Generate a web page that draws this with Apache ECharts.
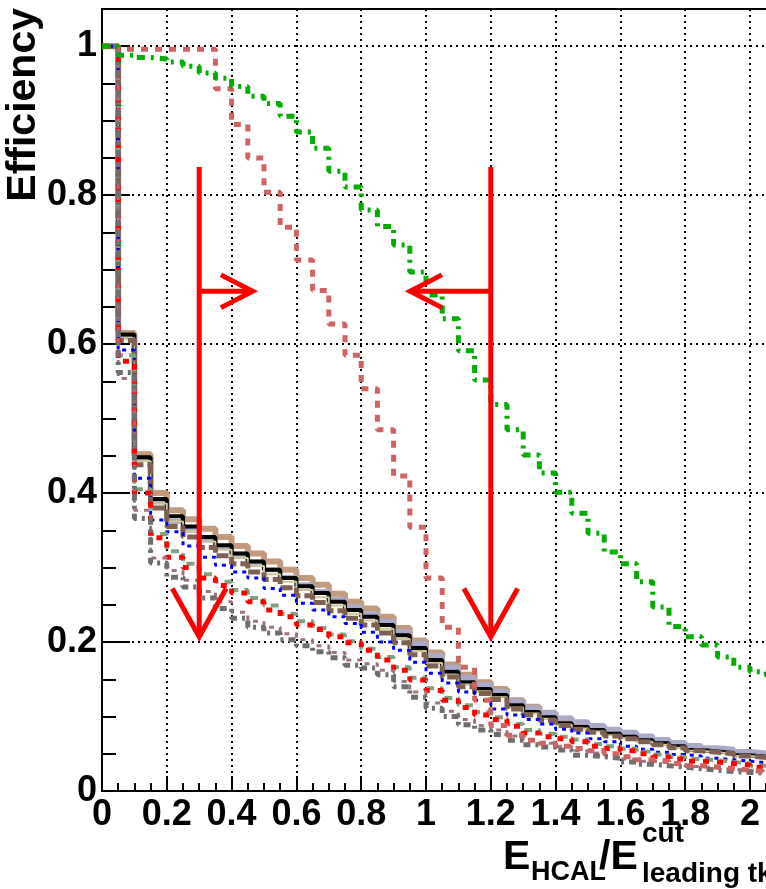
<!DOCTYPE html>
<html>
<head>
<meta charset="utf-8">
<script src="https://cdn.jsdelivr.net/npm/echarts@6/dist/echarts.min.js"></script>
<style>
  html, body { margin: 0; padding: 0; background: #fff; }
  #chart { width: 766px; height: 889px; }
</style>
</head>
<body>
<div id="chart"></div>
<script>
// Cumulative efficiency per bin of E_HCAL / E_leading tk (bin width 0.05, bins from 0 to 2.1)
const binWidth = 0.05;

const effTan      = [1.0, 0.615, 0.452, 0.400, 0.377, 0.365, 0.352, 0.341, 0.329, 0.319, 0.308, 0.297, 0.286, 0.277, 0.265, 0.254, 0.245, 0.234, 0.219, 0.202, 0.186, 0.170, 0.156, 0.146, 0.137, 0.122, 0.113, 0.105, 0.097, 0.091, 0.087, 0.081, 0.077, 0.072, 0.068, 0.063, 0.059, 0.056, 0.054, 0.051, 0.049, 0.047];
const effLavender = [1.0, 0.610, 0.445, 0.388, 0.362, 0.350, 0.337, 0.327, 0.318, 0.307, 0.297, 0.287, 0.277, 0.268, 0.257, 0.247, 0.238, 0.228, 0.214, 0.198, 0.182, 0.166, 0.152, 0.143, 0.134, 0.121, 0.112, 0.105, 0.098, 0.093, 0.088, 0.083, 0.079, 0.074, 0.069, 0.065, 0.061, 0.058, 0.056, 0.053, 0.051, 0.049];
const effBlack    = [1.0, 0.613, 0.448, 0.392, 0.369, 0.355, 0.341, 0.330, 0.319, 0.308, 0.297, 0.286, 0.275, 0.266, 0.254, 0.243, 0.234, 0.223, 0.209, 0.192, 0.176, 0.160, 0.146, 0.137, 0.129, 0.115, 0.106, 0.099, 0.091, 0.086, 0.082, 0.077, 0.073, 0.068, 0.064, 0.060, 0.055, 0.053, 0.051, 0.048, 0.046, 0.044];
const effKhaki    = [1.0, 0.608, 0.443, 0.386, 0.362, 0.349, 0.335, 0.324, 0.313, 0.302, 0.291, 0.281, 0.270, 0.260, 0.249, 0.238, 0.229, 0.218, 0.204, 0.188, 0.172, 0.156, 0.143, 0.134, 0.126, 0.112, 0.104, 0.097, 0.089, 0.084, 0.080, 0.075, 0.071, 0.066, 0.062, 0.058, 0.054, 0.052, 0.050, 0.047, 0.045, 0.043];
const effBrown    = [1.0, 0.605, 0.438, 0.380, 0.355, 0.341, 0.327, 0.316, 0.305, 0.294, 0.284, 0.273, 0.262, 0.253, 0.242, 0.232, 0.223, 0.212, 0.199, 0.183, 0.168, 0.153, 0.140, 0.131, 0.123, 0.110, 0.102, 0.095, 0.088, 0.083, 0.079, 0.074, 0.070, 0.066, 0.062, 0.058, 0.054, 0.052, 0.050, 0.047, 0.045, 0.043];
const effBlue     = [1.0, 0.592, 0.420, 0.364, 0.348, 0.329, 0.314, 0.303, 0.294, 0.286, 0.272, 0.263, 0.252, 0.243, 0.234, 0.225, 0.213, 0.200, 0.189, 0.173, 0.158, 0.145, 0.133, 0.122, 0.110, 0.102, 0.096, 0.090, 0.083, 0.078, 0.070, 0.066, 0.060, 0.056, 0.052, 0.049, 0.047, 0.044, 0.042, 0.040, 0.038, 0.037];
const effSage     = [1.0, 0.585, 0.405, 0.345, 0.322, 0.305, 0.291, 0.281, 0.270, 0.259, 0.249, 0.238, 0.228, 0.219, 0.210, 0.201, 0.191, 0.180, 0.166, 0.152, 0.138, 0.125, 0.115, 0.106, 0.099, 0.090, 0.082, 0.077, 0.073, 0.069, 0.063, 0.060, 0.057, 0.053, 0.049, 0.046, 0.043, 0.041, 0.039, 0.037, 0.034, 0.033];
const effRed      = [1.0, 0.577, 0.400, 0.340, 0.314, 0.300, 0.286, 0.276, 0.266, 0.254, 0.243, 0.234, 0.223, 0.217, 0.207, 0.199, 0.189, 0.176, 0.162, 0.149, 0.135, 0.122, 0.112, 0.102, 0.096, 0.087, 0.078, 0.073, 0.070, 0.066, 0.060, 0.057, 0.054, 0.050, 0.046, 0.043, 0.040, 0.039, 0.037, 0.035, 0.032, 0.031];
const effMauve    = [1.0, 0.554, 0.377, 0.313, 0.296, 0.283, 0.268, 0.254, 0.240, 0.228, 0.220, 0.211, 0.203, 0.195, 0.186, 0.176, 0.171, 0.162, 0.147, 0.133, 0.118, 0.107, 0.096, 0.088, 0.082, 0.074, 0.068, 0.064, 0.060, 0.054, 0.051, 0.048, 0.043, 0.040, 0.038, 0.036, 0.033, 0.031, 0.029, 0.028, 0.027, 0.026];
const effGray     = [1.0, 0.562, 0.366, 0.306, 0.287, 0.274, 0.259, 0.245, 0.232, 0.220, 0.212, 0.203, 0.195, 0.187, 0.179, 0.169, 0.165, 0.156, 0.140, 0.126, 0.111, 0.100, 0.089, 0.082, 0.076, 0.068, 0.062, 0.059, 0.055, 0.048, 0.046, 0.044, 0.039, 0.036, 0.034, 0.032, 0.030, 0.028, 0.026, 0.025, 0.024, 0.023];
const effRose     = [1.0, 0.996, 0.996, 0.996, 0.996, 0.996, 0.996, 0.943, 0.895, 0.850, 0.804, 0.757, 0.713, 0.672, 0.627, 0.585, 0.540, 0.485, 0.423, 0.354, 0.286, 0.220, 0.166, 0.122, 0.088, 0.075, 0.068, 0.064, 0.060, 0.057, 0.054, 0.050, 0.046, 0.042, 0.040, 0.037, 0.034, 0.032, 0.030, 0.028, 0.026, 0.025];
const effGreen    = [1.0, 0.988, 0.985, 0.983, 0.979, 0.973, 0.964, 0.957, 0.946, 0.933, 0.923, 0.906, 0.885, 0.863, 0.832, 0.811, 0.780, 0.758, 0.733, 0.697, 0.666, 0.634, 0.591, 0.552, 0.519, 0.485, 0.451, 0.427, 0.401, 0.373, 0.346, 0.321, 0.305, 0.281, 0.247, 0.221, 0.207, 0.196, 0.180, 0.166, 0.160, 0.155];

// Tick labels
const xTickLabels = ['0', '0.2', '0.4', '0.6', '0.8', '1', '1.2', '1.4', '1.6', '1.8', '2', '2.2'];
const yTickLabels = ['0', '0.2', '0.4', '0.6', '0.8', '1'];

// Cut markers (arrows) in data coordinates
const cutLow  = 0.3;
const cutHigh = 1.2;
const arrowTop = 0.838, arrowTip = 0.207, arrowBarb = 0.272, arrowHalfWidth = 0.083;
const sideY = 0.671, sideLowTip = 0.465, sideHighTip = 0.951, sideBarbDx = 0.098, sideBarbDy = 0.022;

// Turn per-bin values into step outline points (left edge of every bin + closing right edge)
function toSteps(vals) {
  const pts = vals.map((v, i) => [Math.round(i * binWidth * 100) / 100, v]);
  pts.push([Math.round(vals.length * binWidth * 100) / 100, vals[vals.length - 1]]);
  return pts;
}

const curves = [
  { data: effTan,      color: '#c49a7c', width: 6,   dash: 'solid' },
  { data: effLavender, color: '#a9a9c9', width: 5,   dash: 'solid' },
  { data: effBlack,    color: '#000000', width: 4,   dash: 'solid' },
  { data: effKhaki,    color: '#cfc78f', width: 2,   dash: 'solid' },
  { data: effBrown,    color: '#806050', width: 5,   dash: [12, 4] },
  { data: effBlue,     color: '#0000ff', width: 3,   dash: [4, 5] },
  { data: effSage,     color: '#80a080', width: 4,   dash: [8, 6] },
  { data: effRed,      color: '#ff0000', width: 5,   dash: [6, 8] },
  { data: effMauve,    color: '#a07080', width: 3,   dash: [5, 6] },
  { data: effGray,     color: '#6e6e6e', width: 5,   dash: [7, 5, 3, 5] },
  { data: effRose,     color: '#cf6262', width: 5,   dash: [7, 7] },
  { data: effGreen,    color: '#00ad00', width: 5,   dash: [8, 6, 3, 6] }
];

const series = curves.map((c, i) => ({
  type: 'line',
  step: 'end',
  xAxisIndex: 0,
  yAxisIndex: 0,
  data: toSteps(c.data),
  symbol: 'none',
  silent: true,
  z: 2 + i,
  lineStyle: { color: c.color, width: c.width, type: c.dash, cap: 'butt' }
}));

function arrowPart(points) {
  return {
    type: 'line',
    xAxisIndex: 0,
    yAxisIndex: 0,
    data: points,
    symbol: 'none',
    silent: true,
    z: 30,
    lineStyle: { color: '#ff0000', width: 5, type: 'solid', cap: 'butt', join: 'miter' }
  };
}

[cutLow, cutHigh].forEach(xc => {
  series.push(arrowPart([[xc, arrowTop], [xc, arrowTip]]));
  series.push(arrowPart([[xc - arrowHalfWidth, arrowBarb], [xc, arrowTip], [xc + arrowHalfWidth, arrowBarb]]));
});
series.push(arrowPart([[cutLow, sideY], [sideLowTip, sideY]]));
series.push(arrowPart([[sideLowTip - sideBarbDx, sideY + sideBarbDy], [sideLowTip, sideY], [sideLowTip - sideBarbDx, sideY - sideBarbDy]]));
series.push(arrowPart([[cutHigh, sideY], [sideHighTip, sideY]]));
series.push(arrowPart([[sideHighTip + sideBarbDx, sideY + sideBarbDy], [sideHighTip, sideY], [sideHighTip + sideBarbDx, sideY - sideBarbDy]]));

const FONT = "'Liberation Sans', Arial, Helvetica, sans-serif";
const tickStyle = { color: '#000', width: 2 };

const chart = echarts.init(document.getElementById('chart'), null, { renderer: 'canvas' });
chart.setOption({
  animation: false,
  backgroundColor: '#ffffff',
  grid: {
    left: 102, top: 9, width: 712.8, height: 782,
    containLabel: false, outerBoundsMode: 'none',
    show: true, borderColor: '#000', borderWidth: 2, backgroundColor: 'transparent'
  },
  xAxis: [
    {
      type: 'value', position: 'bottom', min: 0, max: 2.2, interval: 0.2,
      axisLine: { show: true, onZero: false, lineStyle: tickStyle },
      axisTick: { show: true, inside: true, length: 15, lineStyle: tickStyle },
      minorTick: { show: false },
      splitLine: { show: true, lineStyle: { color: '#000', width: 2, type: [2, 4] } },
      axisLabel: {
        show: true, margin: 6, color: '#000', fontSize: 36, fontWeight: 'bold', fontFamily: FONT,
        formatter: v => xTickLabels[Math.round(v / 0.2)] ?? ''
      }
    },
    {
      type: 'value', position: 'bottom', min: 0, max: 2.2, interval: 0.05,
      axisLine: { show: false, onZero: false },
      axisTick: { show: true, inside: true, length: 8, lineStyle: tickStyle },
      splitLine: { show: false },
      axisLabel: { show: false }
    }
  ],
  yAxis: [
    {
      type: 'value', position: 'left', min: 0, max: 1.05, interval: 0.2,
      axisLine: { show: true, onZero: false, lineStyle: tickStyle },
      axisTick: { show: true, inside: true, length: 28, lineStyle: tickStyle },
      splitLine: { show: true, lineStyle: { color: '#000', width: 2, type: [2, 4] } },
      axisLabel: {
        show: true, margin: 5, color: '#000', fontSize: 36, fontWeight: 'bold', fontFamily: FONT,
        showMaxLabel: false, padding: [14, 0, 0, 0],
        formatter: v => { const k = Math.round(v / 0.2); return Math.abs(v - k * 0.2) < 1e-6 ? (yTickLabels[k] ?? '') : ''; }
      }
    },
    {
      type: 'value', position: 'left', min: 0, max: 1.05, interval: 0.05,
      axisLine: { show: false, onZero: false },
      axisTick: { show: true, inside: true, length: 14, lineStyle: tickStyle },
      splitLine: { show: false },
      axisLabel: { show: false }
    }
  ],
  series: series,
  graphic: [
    {
      type: 'text', x: 23.5, y: 8, rotation: Math.PI / 2, silent: true,
      style: { text: 'Efficiency', fill: '#000', font: 'bold 41px ' + FONT, align: 'right', verticalAlign: 'middle' }
    },
    { type: 'text', x: 503, y: 858, silent: true,
      style: { text: 'E', fill: '#000', font: 'bold 41px ' + FONT, align: 'left', verticalAlign: 'middle' } },
    { type: 'text', x: 531, y: 873, silent: true,
      style: { text: 'HCAL', fill: '#000', font: 'bold 27px ' + FONT, align: 'left', verticalAlign: 'middle' } },
    { type: 'text', x: 599, y: 858, silent: true,
      style: { text: '/E', fill: '#000', font: 'bold 41px ' + FONT, align: 'left', verticalAlign: 'middle' } },
    { type: 'text', x: 642, y: 834, silent: true,
      style: { text: 'cut', fill: '#000', font: 'bold 28px ' + FONT, align: 'left', verticalAlign: 'middle' } },
    { type: 'text', x: 642, y: 874, silent: true,
      style: { text: 'leading tk', fill: '#000', font: 'bold 28px ' + FONT, align: 'left', verticalAlign: 'middle' } }
  ]
});
</script>
</body>
</html>
